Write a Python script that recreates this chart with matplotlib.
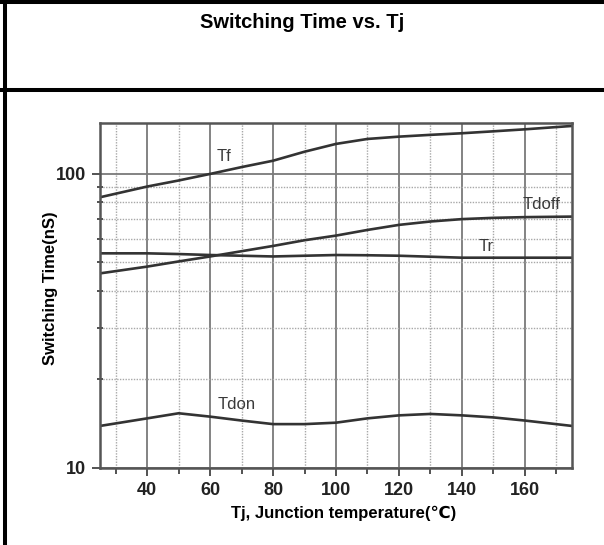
import matplotlib
matplotlib.use("Agg")
import matplotlib.pyplot as plt
from matplotlib.lines import Line2D
from matplotlib.ticker import FixedLocator, NullFormatter

plt.rcParams['font.family'] = ['Liberation Sans', 'DejaVu Sans']

# Data
tj = [25, 40, 50, 60, 70, 80, 90, 100, 110, 120, 130, 140, 150, 160, 175]
tf = [83.3, 90.6, 95.0, 100.0, 105.5, 110.9, 119.0, 126.5, 131.5, 133.9, 135.8, 137.5, 139.6, 141.8, 145.6]
tdoff = [45.9, 48.4, 50.4, 52.4, 54.6, 56.9, 59.5, 61.7, 64.5, 67.1, 68.9, 70.2, 70.9, 71.3, 71.6]
tr = [53.7, 53.7, 53.4, 53.0, 52.7, 52.4, 52.7, 53.0, 52.9, 52.7, 52.3, 51.9, 51.9, 51.9, 51.9]
tdon = [13.9, 14.75, 15.35, 14.95, 14.5, 14.1, 14.1, 14.26, 14.75, 15.1, 15.27, 15.1, 14.86, 14.5, 13.9]

x_major = [40, 60, 80, 100, 120, 140, 160]
x_minor = [30, 50, 70, 90, 110, 130, 150, 170]
y_major = [10, 100]
y_minor = [20, 30, 40, 50, 60, 70, 80, 90]

series_labels = ["Tf", "Tdoff", "Tr", "Tdon"]
label_pos = [(64.4, 115), (165.4, 78.5), (147.6, 56.5), (68.3, 16.4)]

title = "Switching Time vs. Tj"
xlabel = "Tj, Junction temperature(℃)"
ylabel = "Switching Time(nS)"

fig = plt.figure(figsize=(6.04, 5.45), dpi=100)
ax = fig.add_axes([100/604, 1-468/545, 472/604, 345/545])

ax.set_yscale('log')
ax.set_xlim(25, 175)
ax.set_ylim(10, 149)

ax.xaxis.set_major_locator(FixedLocator(x_major))
ax.xaxis.set_minor_locator(FixedLocator(x_minor))
ax.yaxis.set_major_locator(FixedLocator(y_major))
ax.yaxis.set_minor_locator(FixedLocator(y_minor))
ax.yaxis.set_minor_formatter(NullFormatter())
ax.set_yticklabels([str(v) for v in y_major])
ax.set_xticklabels([str(v) for v in x_major])

ax.grid(which='major', color='#7a7a7a', lw=1.3, ls='-')
ax.grid(which='minor', color='#a8a8a8', lw=1.0, ls=(0, (1, 1)))
ax.set_axisbelow(True)

for sp in ax.spines.values():
    sp.set_color('#555555')
    sp.set_linewidth(1.8)

ax.tick_params(which='major', direction='out', length=6, width=1.3, color='#444444',
               labelsize=13, pad=4)
ax.tick_params(axis='x', which='minor', direction='out', length=4, width=1.3, color='#444444')
ax.tick_params(axis='y', which='minor', direction='inout', length=4, width=1.3, color='#444444')
for lab in ax.get_xticklabels() + ax.get_yticklabels():
    lab.set_fontweight('bold')
    lab.set_color('#222222')

for ys in [tf, tdoff, tr, tdon]:
    ax.plot(tj, ys, color='#333333', lw=1.9, solid_capstyle='round')

for name, (lx, ly) in zip(series_labels, label_pos):
    ax.text(lx, ly, name, fontsize=12, color='#3a3a3a', ha='center', va='center')

ax.set_xlabel(xlabel, fontsize=12, fontweight='bold')
ax.set_ylabel(ylabel, fontsize=12, fontweight='bold')
ax.xaxis.set_label_coords((344-100)/472, (468-513)/345)
ax.yaxis.set_label_coords((50-100)/472, (468-288)/345)
ax.xaxis.label.set_verticalalignment('center')
ax.yaxis.label.set_verticalalignment('center')

fig.text(0.5, 1-22/545, title, fontsize=14.5, fontweight='bold', ha='center', va='center')

# Frame lines (table borders)
fig.add_artist(Line2D([5.3/604, 5.3/604], [0, 1], transform=fig.transFigure, color='black', lw=2.9))
fig.add_artist(Line2D([0, 1], [1-1.6/545, 1-1.6/545], transform=fig.transFigure, color='black', lw=2.9))
fig.add_artist(Line2D([0, 1], [1-89.5/545, 1-89.5/545], transform=fig.transFigure, color='black', lw=2.9))

fig.savefig("out.png", dpi=100)
